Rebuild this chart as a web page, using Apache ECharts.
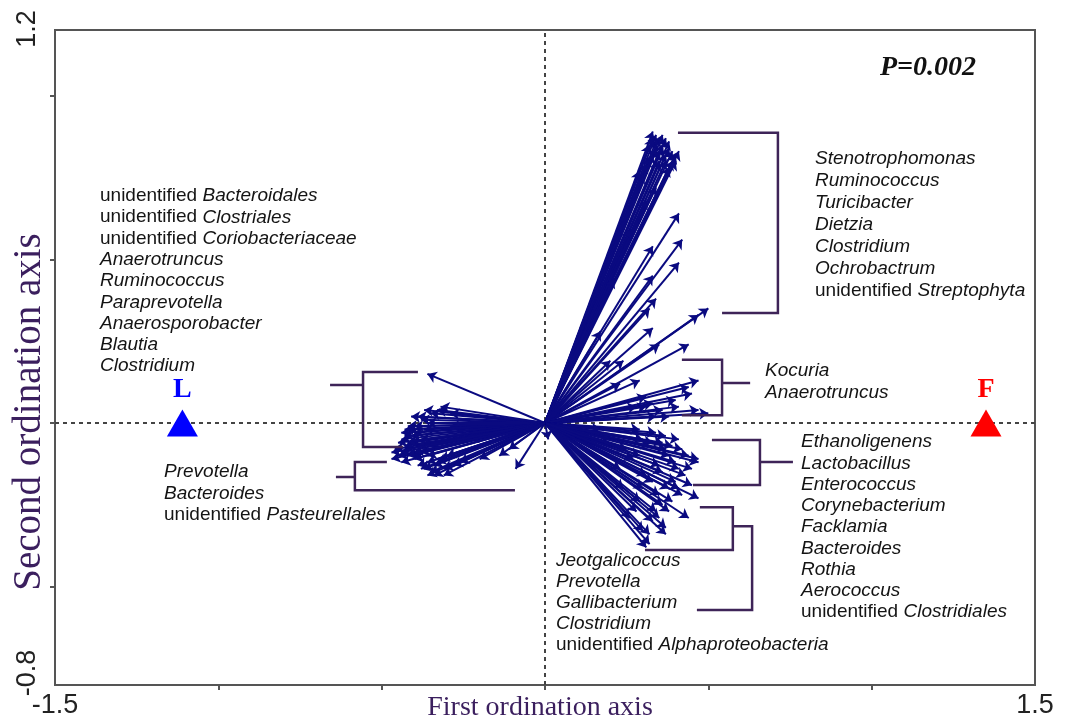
<!DOCTYPE html>
<html>
<head>
<meta charset="utf-8">
<script src="https://cdn.jsdelivr.net/npm/echarts@6.0.0/dist/echarts.min.js"></script>
<style>
  html, body { margin: 0; padding: 0; background: #ffffff; }
  #chart { width: 1069px; height: 721px; }
</style>
</head>
<body>
<div id="chart"></div>
<script>
// Axis ranges and tick positions
const xRange = [-1.5, 1.5];
const yRange = [-0.8, 1.2];
const xTickValues = [-1.0, -0.5, 0, 0.5, 1.0];
const yTickValues = [-0.5, 0, 0.5, 1.0];
const xTickLabels = [-1.5, 1.5];
const yTickLabels = [-0.8, 1.2];

// Genus arrow tips (first and second ordination axis scores)
const genusX = [
  // upper-right bundle
  0.33, 0.32, 0.34, 0.35, 0.37, 0.38, 0.36, 0.39, 0.40, 0.41, 0.39, 0.37, 0.35, 0.32, 0.35,
  0.33, 0.34, 0.36, 0.36, 0.38, 0.34, 0.33, 0.31, 0.30, 0.37, 0.40, 0.38, 0.34,
  0.41, 0.42, 0.33, 0.41, 0.33, 0.34, 0.32, 0.50, 0.47, 0.33, 0.44, 0.35,
  0.29, 0.31, 0.26, 0.21, 0.17, 0.20,
  // right, near the first axis
  0.47, 0.44, 0.31, 0.31, 0.34, 0.38, 0.41, 0.47, 0.50, 0.29, 0.23, 0.24,
  0.36, 0.33, 0.40, 0.28, 0.45,
  // lower-right
  0.41, 0.47, 0.47, 0.44, 0.41, 0.40, 0.47, 0.44, 0.38, 0.35, 0.37, 0.37, 0.32, 0.32, 0.31,
  0.29, 0.34, 0.37, 0.32, 0.37, 0.29, 0.35, 0.43, 0.41, 0.35, 0.29, 0.39, 0.26, 0.23, 0.20,
  0.24, 0.45, 0.31, 0.34, 0.17,
  0.30, 0.33, 0.36, 0.39, 0.42, 0.38, 0.40, 0.36, 0.33, 0.38, 0.30, 0.36, 0.33, 0.30, 0.28,
  0.42, 0.45, 0.27, 0.25,
  // left
  -0.36, -0.32, -0.42, -0.42, -0.44, -0.41, -0.43, -0.47, -0.45, -0.40, -0.34, -0.34, -0.37,
  -0.31, -0.11, -0.09, -0.38, -0.35, -0.29, -0.40, -0.41, -0.38, -0.32, -0.26, -0.20, -0.14,
  0.01, -0.43, -0.41, -0.37, -0.46, -0.35, -0.41, -0.39, -0.29, -0.23, -0.43,
  -0.44, -0.43, -0.42, -0.44, -0.42, -0.40, -0.39, -0.38, -0.37, -0.36, -0.36, -0.35, -0.33,
  -0.30, -0.28, -0.40, -0.39, -0.36, -0.33, -0.45, -0.47, -0.44, -0.38, -0.36, -0.31
];
const genusY = [
  // upper-right bundle
  0.89, 0.85, 0.86, 0.87, 0.87, 0.86, 0.85, 0.83, 0.82, 0.83, 0.80, 0.82, 0.83, 0.81, 0.80,
  0.87, 0.88, 0.88, 0.84, 0.84, 0.84, 0.82, 0.79, 0.76, 0.80, 0.80, 0.78, 0.72,
  0.64, 0.56, 0.54, 0.49, 0.45, 0.38, 0.35, 0.35, 0.33, 0.29, 0.24, 0.24,
  0.77, 0.68, 0.59, 0.44, 0.28, 0.19,
  // right, near the first axis
  0.13, 0.11, 0.08, 0.05, 0.02, 0.02, 0.05, 0.04, 0.03, 0.13, 0.12, 0.19,
  0.04, 0.06, 0.07, 0.05, 0.09,
  // lower-right
  -0.05, -0.11, -0.12, -0.10, -0.14, -0.18, -0.23, -0.29, -0.27, -0.29, -0.32, -0.34, -0.34, -0.37, -0.38,
  -0.02, -0.03, -0.04, -0.07, -0.08, -0.10, -0.13, -0.16, -0.20, -0.22, -0.24, -0.24, -0.29, -0.14, -0.05,
  -0.20, -0.14, -0.16, -0.27, -0.02,
  -0.05, -0.06, -0.06, -0.07, -0.08, -0.10, -0.12, -0.15, -0.18, -0.20, -0.20, -0.25, -0.30, -0.33, -0.27,
  -0.22, -0.19, -0.11, -0.08,
  // left
  0.15, 0.05, -0.01, -0.02, -0.05, -0.06, -0.08, -0.11, -0.10, -0.11, -0.13, -0.16, -0.14,
  -0.14, -0.08, -0.14, 0.01, 0.03, 0.03, -0.03, -0.04, -0.09, -0.11, -0.12, -0.11, -0.10,
  -0.05, -0.02, 0.02, 0.04, -0.08, -0.07, -0.10, -0.13, -0.01, -0.05, -0.07,
  -0.03, -0.04, -0.06, -0.09, -0.10, -0.09, -0.07, -0.05, -0.02, -0.10, -0.12, -0.15, -0.12,
  -0.10, -0.13, -0.01, 0.02, 0.00, 0.04, -0.06, -0.09, -0.12, -0.14, -0.16, -0.16
];

// Sample group centroids
const groupNames = ['L', 'F'];
const groupX = [-1.11, 1.35];
const groupY = [0, 0];
const groupColors = ['#0000ff', '#ff0000'];

// Genus name lists beside each arrow cluster
const namesUpperLeft = ['unidentified Bacteroidales', 'unidentified Clostriales', 'unidentified Coriobacteriaceae',
  'Anaerotruncus', 'Ruminococcus', 'Paraprevotella', 'Anaerosporobacter', 'Blautia', 'Clostridium'];
const namesLowerLeft = ['Prevotella', 'Bacteroides', 'unidentified Pasteurellales'];
const namesUpperRight = ['Stenotrophomonas', 'Ruminococcus', 'Turicibacter', 'Dietzia', 'Clostridium',
  'Ochrobactrum', 'unidentified Streptophyta'];
const namesMiddleRight = ['Kocuria', 'Anaerotruncus'];
const namesLowerRight = ['Ethanoligenens', 'Lactobacillus', 'Enterococcus', 'Corynebacterium', 'Facklamia',
  'Bacteroides', 'Rothia', 'Aerococcus', 'unidentified Clostridiales'];
const namesBottom = ['Jeotgalicoccus', 'Prevotella', 'Gallibacterium', 'Clostridium',
  'unidentified Alphaproteobacteria'];

const pValueText = 'P=0.002';

// Bracket outlines grouping the arrows (axis units)
const bracketPaths = [
  [[0.407, 0.886], [0.713, 0.886], [0.713, 0.336], [0.542, 0.336]],
  [[0.419, 0.193], [0.542, 0.193], [0.542, 0.024], [0.419, 0.024]],
  [[0.542, 0.122], [0.628, 0.122]],
  [[0.511, -0.052], [0.658, -0.052], [0.658, -0.189], [0.453, -0.189]],
  [[0.658, -0.119], [0.759, -0.119]],
  [[0.474, -0.257], [0.575, -0.257], [0.575, -0.388], [0.306, -0.388]],
  [[0.575, -0.315], [0.634, -0.315], [0.634, -0.571], [0.465, -0.571]],
  [[-0.389, 0.156], [-0.557, 0.156], [-0.557, -0.073], [-0.435, -0.073]],
  [[-0.658, 0.116], [-0.557, 0.116]],
  [[-0.484, -0.119], [-0.582, -0.119], [-0.582, -0.205], [-0.092, -0.205]],
  [[-0.640, -0.165], [-0.582, -0.165]]
];

const chart = echarts.init(document.getElementById('chart'), null, { renderer: 'canvas' });

const FRAME = '#555555';
const ARROW = '#0a0a80';
const BRACKET = '#3e2458';
const TITLE = '#3b1f5e';
const SANS = '"Liberation Sans", Arial, sans-serif';
const SERIF = '"Liberation Serif", "Times New Roman", serif';

function nameText(name, x, y) {
  const prefix = 'unidentified ';
  let text;
  if (name.indexOf(prefix) === 0) {
    text = '{u|' + prefix + '}{i|' + name.slice(prefix.length) + '}';
  } else {
    text = '{i|' + name + '}';
  }
  return {
    type: 'text', x: x, y: y, z: 20,
    style: {
      text: text,
      verticalAlign: 'middle',
      align: 'left',
      rich: {
        u: { fontFamily: SANS, fontSize: 19, fontStyle: 'normal', fill: '#141414' },
        i: { fontFamily: SANS, fontSize: 19, fontStyle: 'italic', fill: '#141414' }
      }
    }
  };
}

function nameBlock(names, x, y0, step) {
  return names.map((n, i) => nameText(n, x, y0 + i * step));
}

const option = {
  animation: false,
  backgroundColor: '#ffffff',
  grid: { left: 55, right: 34, top: 30, bottom: 36, show: true, borderColor: FRAME, borderWidth: 2,
    backgroundColor: 'transparent' },
  xAxis: {
    type: 'value', min: xRange[0], max: xRange[1],
    axisLine: { onZero: false, lineStyle: { color: FRAME, width: 2 } },
    axisTick: { show: true, customValues: xTickValues, length: 5, lineStyle: { color: FRAME, width: 2 } },
    axisLabel: { customValues: xTickLabels, fontFamily: SANS, fontSize: 27, color: '#222222', margin: 7,
      showMinLabel: true, showMaxLabel: true },
    splitLine: { show: false }
  },
  yAxis: {
    type: 'value', min: yRange[0], max: yRange[1],
    axisLine: { onZero: false, lineStyle: { color: FRAME, width: 2 } },
    axisTick: { show: true, customValues: yTickValues, length: 5, lineStyle: { color: FRAME, width: 2 } },
    axisLabel: { show: false },
    splitLine: { show: false }
  },
  series: [
    {
      name: 'zero lines', type: 'lines', coordinateSystem: 'cartesian2d', z: 1,
      silent: true,
      lineStyle: { color: '#444444', width: 2, type: [4, 4], opacity: 1 },
      data: [
        { coords: [[xRange[0], 0], [xRange[1], 0]] },
        { coords: [[0, yRange[0]], [0, yRange[1]]] }
      ]
    },
    {
      name: 'genera', type: 'lines', coordinateSystem: 'cartesian2d', z: 3,
      symbol: ['none', 'arrow'], symbolSize: 9,
      lineStyle: { color: ARROW, width: 2, opacity: 1 },
      data: genusX.map((x, i) => ({ coords: [[0, 0], [x, genusY[i]]] }))
    },
    {
      name: 'brackets', type: 'lines', coordinateSystem: 'cartesian2d', polyline: true, z: 4,
      lineStyle: { color: BRACKET, width: 2.5, opacity: 1 },
      data: bracketPaths.map(p => ({ coords: p }))
    },
    {
      name: 'groups', type: 'scatter', z: 5,
      symbol: 'triangle', symbolSize: [31, 27],
      data: groupX.map((x, i) => ({
        value: [x, groupY[i]],
        itemStyle: { color: groupColors[i], opacity: 1 },
        label: {
          show: true, position: 'top', distance: 6, formatter: groupNames[i],
          fontFamily: SERIF, fontSize: 28, fontWeight: 'bold', color: groupColors[i]
        }
      }))
    }
  ]
};

chart.setOption(option);

// Vertical axis end labels, rotated to read upwards
const yLabelShift = [-12, -1];
const yLabelGraphics = yTickLabels.map((v, i) => {
  const p = chart.convertToPixel({ gridIndex: 0 }, [xRange[0], v]);
  return {
    type: 'text', x: p[0] - 27, y: p[1] + yLabelShift[i], rotation: Math.PI / 2, z: 20,
    style: { text: String(v), fontFamily: SANS, fontSize: 27, fill: '#222222',
      align: 'center', verticalAlign: 'middle' }
  };
});

const graphics = [].concat(
  nameBlock(namesUpperLeft, 100, 196, 21.25),
  nameBlock(namesLowerLeft, 164, 472, 21.5),
  nameBlock(namesUpperRight, 815, 159, 22),
  nameBlock(namesMiddleRight, 765, 371, 22),
  nameBlock(namesLowerRight, 801, 442, 21.25),
  nameBlock(namesBottom, 556, 561, 21),
  yLabelGraphics,
  [
    {
      type: 'text', x: 928, y: 68, z: 20,
      style: { text: pValueText, fontFamily: SERIF, fontSize: 28, fontWeight: 'bold', fontStyle: 'italic',
        fill: '#111111', align: 'center', verticalAlign: 'middle' }
    },
    {
      type: 'text', x: 540, y: 708, z: 20,
      style: { text: 'First ordination axis', fontFamily: SERIF, fontSize: 28, fill: TITLE,
        align: 'center', verticalAlign: 'middle' }
    },
    {
      type: 'text', x: 30, y: 412, z: 20, rotation: Math.PI / 2,
      style: { text: 'Second ordination axis', fontFamily: SERIF, fontSize: 39, fill: TITLE,
        align: 'center', verticalAlign: 'middle' }
    }
  ]
);

chart.setOption({ graphic: graphics });
</script>
</body>
</html>
